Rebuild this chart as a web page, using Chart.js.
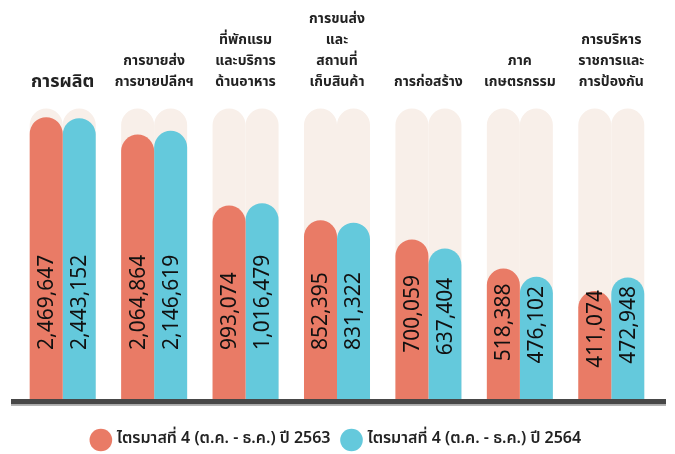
<!DOCTYPE html>
<html>
<head>
<meta charset="utf-8">
<script src="https://cdn.jsdelivr.net/npm/chart.js@4/dist/chart.umd.min.js"></script>
<style>
  html, body { margin: 0; padding: 0; background: #ffffff; }
  #wrap { width: 675px; height: 454px; position: relative; }
</style>
</head>
<body>
<div id="wrap"><canvas id="c" width="675" height="454"></canvas></div>
<script>
// ---- data ----
const categories = [
  ['การผลิต'],
  ['การขายส่ง', 'การขายปลีกฯ'],
  ['ที่พักแรม', 'และบริการ', 'ด้านอาหาร'],
  ['การขนส่ง', 'และ', 'สถานที่', 'เก็บสินค้า'],
  ['การก่อสร้าง'],
  ['ภาค', 'เกษตรกรรม'],
  ['การบริหาร', 'ราชการและ', 'การป้องกัน']
];
const seriesNames = ['ไตรมาสที่ 4 (ต.ค. - ธ.ค.) ปี 2563', 'ไตรมาสที่ 4 (ต.ค. - ธ.ค.) ปี 2564'];
const q4_2563 = [2469647, 2064864, 993074, 852395, 700059, 518388, 411074];
const q4_2564 = [2443152, 2146619, 1016479, 831322, 637404, 476102, 472948];
const trackValues = [2700000, 2700000, 2700000, 2700000, 2700000, 2700000, 2700000];
const axisMin = 135000;
const axisMax = 2950000;

// ---- styles ----
const RED = '#E97B66';
const BLUE = '#64C9DC';
const TRACK = '#F8EFE9';
const FONT = "'Noto Sans Thai', 'Noto Sans', sans-serif";
const radius = {topLeft: 20, topRight: 20, bottomLeft: 0, bottomRight: 0};

const valueLabels = {
  id: 'valueLabels',
  afterDatasetsDraw(chart) {
    const ctx = chart.ctx;
    [0, 1].forEach(di => {
      const meta = chart.getDatasetMeta(di);
      meta.data.forEach((bar, i) => {
        const v = chart.data.datasets[di].data[i];
        const h = bar.base - bar.y;
        const off = Math.min(49, h * 0.29);
        ctx.save();
        ctx.translate(bar.x, bar.base - off);
        ctx.rotate(-Math.PI / 2);
        ctx.textAlign = 'left';
        ctx.textBaseline = 'middle';
        ctx.font = "400 21px 'Noto Sans', sans-serif";
        ctx.fillStyle = '#111111';
        ctx.fillText(v.toLocaleString('en-US'), 0, 1);
        ctx.restore();
      });
    });
  }
};

const baseLine = {
  id: 'baseLine',
  afterDatasetsDraw(chart) {
    const ctx = chart.ctx;
    const y = chart.chartArea.bottom;
    ctx.save();
    ctx.fillStyle = '#474747';
    ctx.fillRect(11, y, 655, 5.5);
    ctx.fillStyle = '#b5b5b5';
    ctx.fillRect(11, y + 5.5, 655, 1.5);
    ctx.restore();
  }
};

const common = { borderRadius: radius, borderSkipped: 'bottom', borderWidth: 0,
                 categoryPercentage: 0.722, barPercentage: 1.0 };

new Chart(document.getElementById('c'), {
  type: 'bar',
  data: {
    labels: categories,
    datasets: [
      Object.assign({ label: seriesNames[0], data: q4_2563, backgroundColor: RED, stack: 'a', order: 1 }, common),
      Object.assign({ label: seriesNames[1], data: q4_2564, backgroundColor: BLUE, stack: 'b', order: 1 }, common),
      Object.assign({ label: 'track1', data: trackValues, backgroundColor: TRACK, stack: 'a', order: 2 }, common),
      Object.assign({ label: 'track2', data: trackValues, backgroundColor: TRACK, stack: 'b', order: 2 }, common)
    ]
  },
  options: {
    responsive: false,
    animation: false,
    devicePixelRatio: 1,
    layout: { padding: { top: 4, left: 17, right: 18, bottom: -4 } },
    plugins: {
      tooltip: { enabled: false },
      legend: {
        position: 'bottom',
        labels: {
          filter: item => item.datasetIndex < 2,
          usePointStyle: true,
          pointStyle: 'circle',
          padding: 13,
          color: '#222222',
          font: { family: FONT, size: 16, weight: '600' }
        }
      }
    },
    scales: {
      x: {
        position: 'top',
        grid: { display: false, drawTicks: false },
        border: { display: false },
        ticks: {
          padding: 6,
          color: '#222222',
          maxRotation: 0,
          autoSkip: false,
          font: (ctx) => ctx.index === 0
            ? { family: FONT, size: 18, weight: '700', lineHeight: 1.2 }
            : { family: FONT, size: 14, weight: '700', lineHeight: 1.5 }
        }
      },
      x2: {
        type: 'category',
        position: 'bottom',
        display: true,
        grid: { display: false, drawTicks: false },
        border: { display: false },
        ticks: { display: false },
        afterFit: (s) => { s.height = 20; }
      },
      y: {
        type: 'logarithmic',
        display: false,
        stacked: false,
        bounds: 'data',
        min: axisMin,
        max: axisMax
      }
    }
  },
  plugins: [valueLabels, baseLine]
});
</script>
</body>
</html>
